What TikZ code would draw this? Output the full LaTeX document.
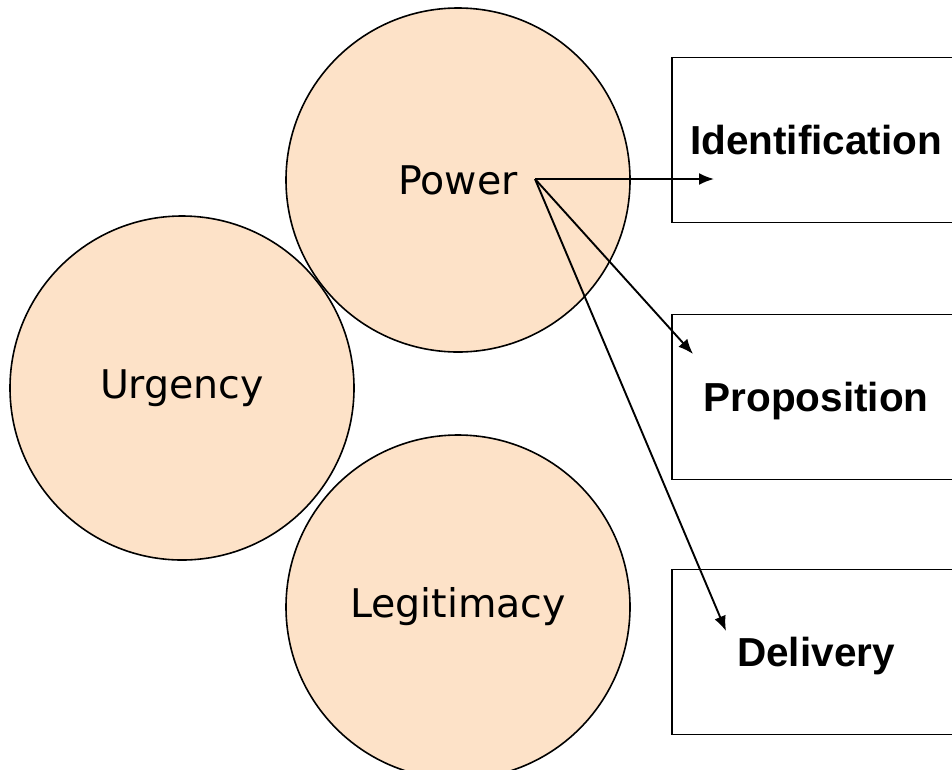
\documentclass[tikz,border=0pt]{standalone}
\usepackage{fontspec}
\setmainfont{DejaVu Sans}
\newfontfamily\boxfont{Liberation Sans}
\usetikzlibrary{arrows.meta}
\definecolor{peach}{RGB}{253,226,200}
\tikzset{
  attr/.style={circle, draw=black, line width=1.6pt, fill=peach, minimum size=344pt,
    inner sep=0pt, font=\fontsize{39.5}{41}\selectfont},
  stage/.style={rectangle, draw=black, line width=1.6pt, minimum width=288pt,
    minimum height=165pt, inner sep=0pt, text height=29pt, text depth=0pt,
    font=\boxfont\bfseries\fontsize{40.5}{42}\selectfont},
}
\begin{document}
\begin{tikzpicture}[x=1pt, y=-1pt]
      \clip (0,0) rectangle (952,769);
      \draw
        (458,180) node[attr] (power){Power}
        (182,388) node[attr] (urgency){Urgency}
        (458,607) node[attr] (legit){Legitimacy}
        (816,140) node[stage] (ident){Identification}
        (816,397) node[stage] (prop){Proposition}
        (816,652) node[stage] (deliv){Delivery};
      \coordinate (src) at (535,179);
      \coordinate (toident) at (714,179);
      \coordinate (toprop) at (693,354);
      \coordinate (todeliv) at (726,631);
      \begin{scope}[line width=1.9pt, -{Latex[length=15pt, width=12pt]}]
        \draw (src) to (toident);
        \draw (src) to (toprop);
        \draw (src) to (todeliv);
      \end{scope}
    \end{tikzpicture}
\end{document}
